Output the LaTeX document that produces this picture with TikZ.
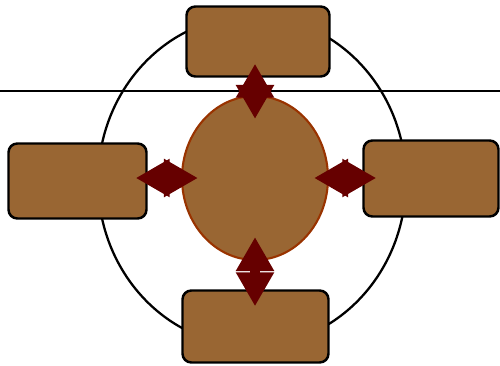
\documentclass[tikz,border=0pt]{standalone}
\usepackage{xcolor}
\usepackage{tikz}
\usetikzlibrary{arrows.meta,shapes.geometric,positioning,calc}
\definecolor{boxBrown}{RGB}{153,102,51}
\definecolor{rimBrown}{RGB}{153,51,0}
\definecolor{arrowRed}{RGB}{102,0,0}
\tikzset{
  brownbox/.style={
    rectangle, rounded corners=5pt, draw=black, line width=1.4pt,
    fill=boxBrown
  },
  corenode/.style={
    ellipse, draw=rimBrown, line width=1.2pt, fill=boxBrown,
    minimum width=2.92cm, minimum height=3.28cm, inner sep=0pt
  },
  bigArrow/.style={
    {Triangle[length=0.68cm,width=0.72cm]}-{Triangle[length=0.68cm,width=0.72cm]},
    line width=0.2cm, color=arrowRed
  }
}

\begin{document}
\begin{tikzpicture}[x=0.02cm, y=-0.02cm]
        \useasboundingbox (0,0) rectangle (500,365);
        \draw[line width=1.3pt] (252,181) ellipse [x radius=3.08cm, y radius=3.3cm];
        \draw[line width=1.3pt] (0,91) -- (500,91);
        \node[corenode] (core) at (255,178) {};
        \node[brownbox, minimum width=2.86cm, minimum height=1.40cm] (top) at (258,41.5) {};
        \node[brownbox, minimum width=2.76cm, minimum height=1.50cm] (left) at (77.5,181) {};
        \node[brownbox, minimum width=2.70cm, minimum height=1.52cm] (right) at (431,178.5) {};
        \node[brownbox, minimum width=2.92cm, minimum height=1.44cm] (bottom) at (255.5,326.5) {};
        \draw[bigArrow] ([yshift=0.28cm]core.north |- top.south) -- ([yshift=-0.48cm]core.north);
        \draw[bigArrow] ([yshift=0.48cm]core.south) -- ([yshift=-0.34cm]core.south |- bottom.north);
        \draw[bigArrow] ([xshift=-0.24cm]left.east |- core.west) -- ([xshift=0.34cm]core.west);
        \draw[bigArrow] ([xshift=-0.30cm]core.east) -- ([xshift=0.28cm]right.west |- core.east);
      \end{tikzpicture}
\end{document}
